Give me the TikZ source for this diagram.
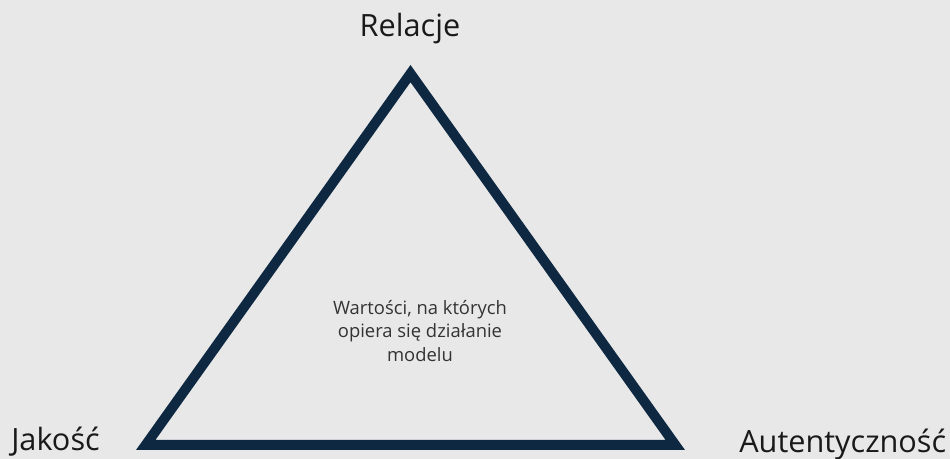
\documentclass[tikz,border=0pt]{standalone}
\usepackage{fontspec}
\setmainfont{Open Sans}
\usetikzlibrary{positioning}
\definecolor{bgGray}{HTML}{E8E8E8}
\definecolor{triNavy}{HTML}{0E2841}
\tikzset{
  corner/.style={font=\fontsize{23}{27}\selectfont, text=black!90, inner sep=0pt},
  core/.style={font=\fontsize{13.8}{17.4}\selectfont, text=black!80, align=center, inner sep=0pt},
  edge/.style={draw=triNavy, line width=7.5pt, line join=miter},
}
\begin{document}
\begin{tikzpicture}[x=0.75pt, y=-0.75pt]
  \fill[bgGray] (0,0) rectangle (950,459);
  \useasboundingbox (0,0) rectangle (950,459);
  % triangle corners
  \coordinate (top) at (410.5,73.6);
  \coordinate (left) at (145.7,445);
  \coordinate (right) at (675.3,445);
  \draw[edge] (top) -- (left) -- (right) -- cycle;
  % labels
  \node[corner, anchor=base] (relacje) at (410,37) {Relacje};
  \node[corner, anchor=base west] (jakosc) at (11,451) {Jakość};
  \node[corner, anchor=base west] (autent) at (739,453) {Autentyczność};
  \node[core] (wartosci) at (420,331) {Wartości, na których\\opiera się działanie\\modelu};
\end{tikzpicture}
\end{document}
